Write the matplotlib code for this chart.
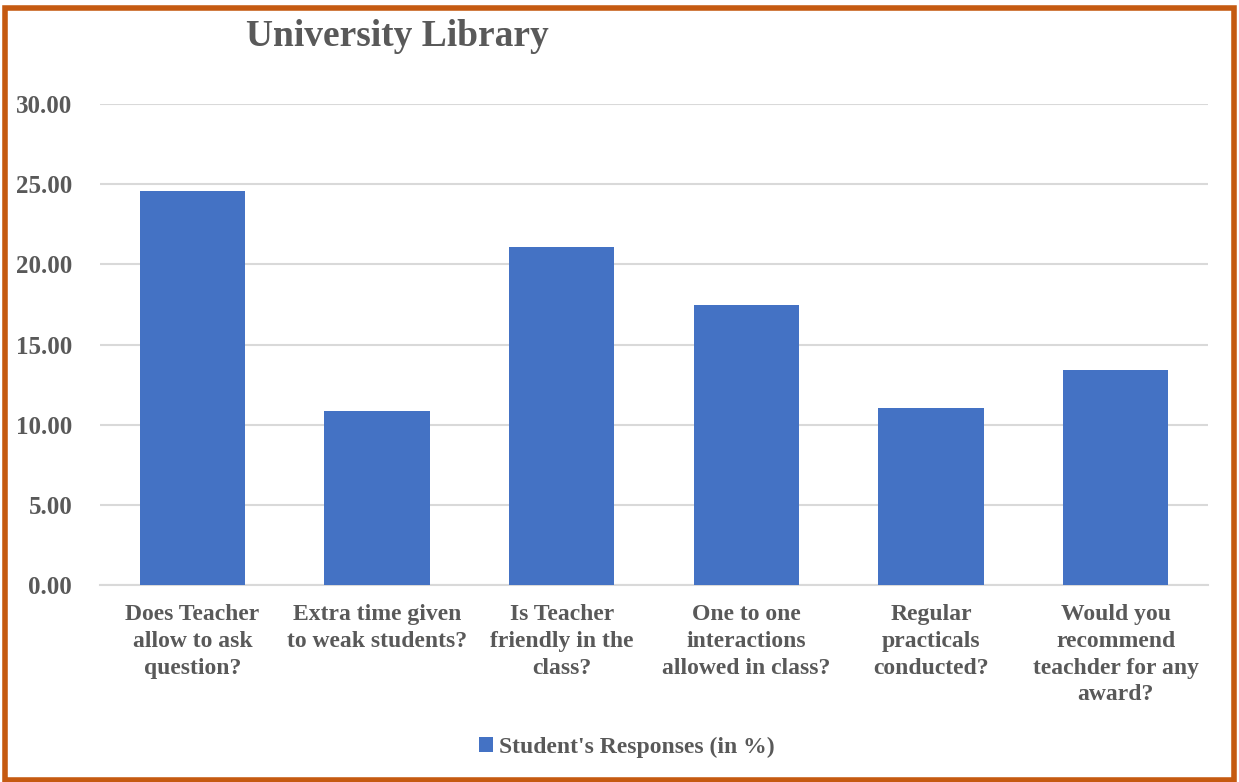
import matplotlib.pyplot as plt
from matplotlib.patches import Rectangle

questions = ["Does Teacher\nallow to ask\nquestion?",
             "Extra time given\nto weak students?",
             "Is Teacher\nfriendly in the\nclass?",
             "One to one\ninteractions\nallowed in class?",
             "Regular\npracticals\nconducted?",
             "Would you\nrecommend\nteachder for any\naward?"]
responses = [24.58, 10.85, 21.08, 17.47, 11.04, 13.41]
series_name = "Student's Responses (in %)"

plt.rcParams['font.family'] = ['Liberation Serif', 'DejaVu Serif']
plt.rcParams['font.weight'] = 'bold'
grey = '#595959'

fig = plt.figure(figsize=(12.39, 7.82), dpi=100)
ax = fig.add_axes([100/1239, 1 - 585/782, 1108/1239, 481/782])

x = range(len(questions))
ax.bar(x, responses, width=0.57, color='#4472C4', label=series_name, zorder=3)
ax.set_xlim(-0.5, len(questions) - 0.5)
ax.set_ylim(0, 30)
ax.set_yticks([0, 5, 10, 15, 20, 25, 30])
ax.set_yticklabels([f"{v:.2f}" for v in [0, 5, 10, 15, 20, 25, 30]])
ax.set_xticks(list(x))
ax.set_xticklabels(questions, linespacing=1.35)
ax.tick_params(axis='both', length=0, colors=grey)
ax.tick_params(axis='x', pad=14, labelsize=17)
ax.tick_params(axis='y', pad=20, labelsize=18)
for lab in ax.get_xticklabels() + ax.get_yticklabels():
    lab.set_fontweight('bold')
ax.grid(axis='y', color='#D9D9D9', linewidth=1.5, zorder=0)
for s in ['top', 'right', 'left']:
    ax.spines[s].set_visible(False)
ax.spines['bottom'].set_color('#D9D9D9')
ax.spines['bottom'].set_linewidth(1.5)

fig.text(397/1239, 1 - 37/782, "University Library", ha='center', va='center',
         fontsize=27, fontweight='bold', color=grey)

leg = fig.legend(loc='center', bbox_to_anchor=(627/1239, 1 - 747/782), frameon=False,
                 fontsize=17, handlelength=0.6, handleheight=0.6, handletextpad=0.25)
for t in leg.get_texts():
    t.set_color(grey)
    t.set_fontweight('bold')

# orange frame around the chart
fig.patches.append(Rectangle((5/1239, 2/782), 1229/1239, 772/782, transform=fig.transFigure,
                             fill=False, edgecolor='#C55A11', linewidth=4))

fig.savefig('out.png', dpi=100)
